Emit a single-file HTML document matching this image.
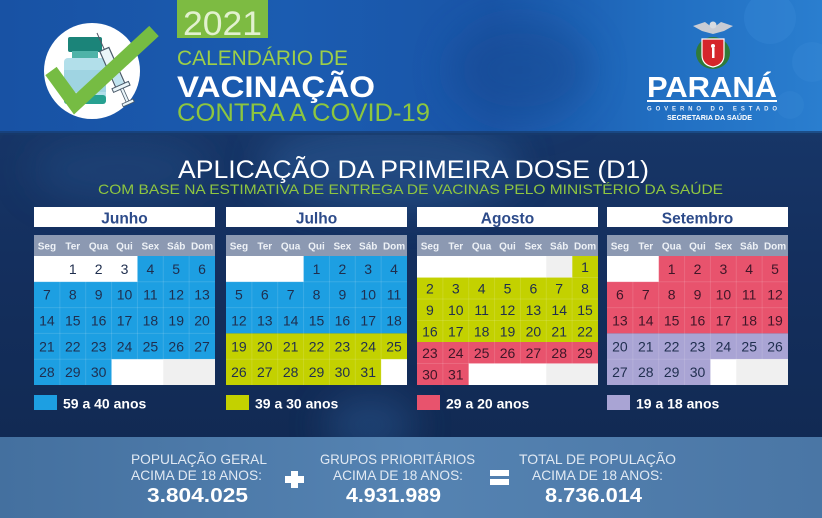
<!DOCTYPE html>
<html>
<head>
<meta charset="utf-8">
<style>
  html,body{margin:0;padding:0;background:#132f5b;}
  svg{display:block;font-family:"Liberation Sans",sans-serif;}
  .mt{font-size:15.5px;font-weight:bold;fill:#2d4b8a;text-anchor:middle;}
  .h{font-size:10px;font-weight:bold;fill:#eef2f7;text-anchor:middle;}
  .n{font-size:14px;fill:#1f2e4e;text-anchor:middle;}
  .np{font-size:14px;fill:#3f1628;text-anchor:middle;}
  .lg{font-size:14px;font-weight:bold;fill:#ffffff;}
  .gl{stroke:rgba(255,255,255,0.13);stroke-width:1;}
  .bt{font-size:14px;fill:#e1e9f3;}
  .bn{font-size:20px;font-weight:bold;fill:#ffffff;}
</style>
</head>
<body>
<svg width="822" height="518" viewBox="0 0 822 518" xmlns="http://www.w3.org/2000/svg">
  <defs>
    <linearGradient id="top" x1="0" y1="0" x2="1" y2="0">
      <stop offset="0" stop-color="#1852a4"/>
      <stop offset="0.35" stop-color="#1b5cb1"/>
      <stop offset="0.6" stop-color="#1a55a7"/>
      <stop offset="0.8" stop-color="#216ec1"/>
      <stop offset="1" stop-color="#2a7ecf"/>
    </linearGradient>
    <linearGradient id="mid" x1="0" y1="0" x2="0" y2="1">
      <stop offset="0" stop-color="#1a3d71"/>
      <stop offset="0.5" stop-color="#142f5e"/>
      <stop offset="1" stop-color="#10284f"/>
    </linearGradient>
    <linearGradient id="bot" x1="0" y1="0" x2="1" y2="0">
      <stop offset="0" stop-color="#44709f"/>
      <stop offset="0.5" stop-color="#5583b2"/>
      <stop offset="1" stop-color="#4a76a5"/>
    </linearGradient>
    <filter id="blur" x="-50%" y="-50%" width="200%" height="200%">
      <feGaussianBlur stdDeviation="18"/>
    </filter>
  </defs>

  <!-- backgrounds -->
  <rect x="0" y="0" width="822" height="518" fill="url(#mid)"/>
  <ellipse cx="390" cy="165" rx="130" ry="45" fill="#2c5c98" opacity="0.55" filter="url(#blur)"/>
  <ellipse cx="370" cy="425" rx="45" ry="30" fill="#2b5891" opacity="0.5" filter="url(#blur)"/>
  <ellipse cx="120" cy="170" rx="90" ry="35" fill="#214b82" opacity="0.5" filter="url(#blur)"/>
  <rect x="0" y="0" width="822" height="133" fill="url(#top)"/>
  <ellipse cx="520" cy="70" rx="70" ry="50" fill="#15478f" opacity="0.5" filter="url(#blur)"/>
  <circle cx="770" cy="18" r="26" fill="#3a8ad6" opacity="0.35"/>
  <circle cx="812" cy="62" r="20" fill="#3a8ad6" opacity="0.3"/>
  <circle cx="790" cy="105" r="14" fill="#3a8ad6" opacity="0.25"/>
  <rect x="0" y="131" width="822" height="4" fill="#173a6c" opacity="0.7"/>
  <rect x="0" y="437" width="822" height="81" fill="url(#bot)"/>

  <!-- icon -->
  <circle cx="92" cy="71" r="48" fill="#ffffff"/>
  <rect x="68" y="37" width="34" height="15" rx="2" fill="#1b8479"/>
  <rect x="72" y="51" width="26" height="8" fill="#4fb3a8"/>
  <rect x="64" y="58" width="42" height="46" rx="4" fill="#b2dfea"/>
  <rect x="64" y="95" width="42" height="9" rx="3" fill="#27a191"/>
  <rect x="64" y="70" width="42" height="22" fill="#9fd4e2"/>
  <g transform="translate(97,33) rotate(-24)">
    <line x1="0" y1="0" x2="0" y2="18" stroke="#556" stroke-width="1"/>
    <rect x="-5" y="18" width="10" height="40" fill="#eaf5f9" stroke="#4a5a6a" stroke-width="1.2"/>
    <rect x="-4" y="36" width="8" height="21" fill="#bfe3ef"/>
    <rect x="-9" y="57" width="18" height="4" fill="#eaf5f9" stroke="#4a5a6a" stroke-width="1"/>
    <rect x="-1.5" y="61" width="3" height="14" fill="#eaf5f9" stroke="#4a5a6a" stroke-width="0.8"/>
    <rect x="-6" y="75" width="12" height="3" fill="#eaf5f9" stroke="#4a5a6a" stroke-width="0.8"/>
  </g>
  <polyline points="51,71 75,104 154,31" fill="none" stroke="#76bc43" stroke-width="14" stroke-linejoin="miter"/>

  <!-- header texts -->
  <rect x="177" y="0" width="91" height="38" fill="#7dbb42"/>
  <text x="183" y="35" font-size="34" fill="#e2f1cf" textLength="79" lengthAdjust="spacingAndGlyphs">2021</text>
  <text x="177" y="65" font-size="21" fill="#9dcf48" textLength="171" lengthAdjust="spacingAndGlyphs">CALENDÁRIO DE</text>
  <text x="177" y="97" font-size="30" font-weight="bold" fill="#ffffff" textLength="198" lengthAdjust="spacingAndGlyphs">VACINAÇÃO</text>
  <text x="177" y="121" font-size="25" fill="#8dc63f" textLength="253" lengthAdjust="spacingAndGlyphs">CONTRA A COVID-19</text>

  <!-- Parana logo -->
  <path d="M693,26 L705,22 L713,28 L721,22 L733,26 L724,31 L713,34 L702,31 Z" fill="#c9ccd4"/>
  <circle cx="713" cy="25" r="3.5" fill="#d8dbe0"/>
  <ellipse cx="713" cy="53" rx="17" ry="16" fill="#2f7a3a"/>
  <path d="M702,39 H724 V55 Q724,65 713,67 Q702,65 702,55 Z" fill="#d5262b" stroke="#ffffff" stroke-width="1.2"/>
  <circle cx="713" cy="46" r="2" fill="#ffffff"/>
  <rect x="712" y="48" width="2.5" height="10" fill="#ffffff"/>
  <text x="647" y="97" font-size="29" font-weight="bold" fill="#ffffff" textLength="130" lengthAdjust="spacingAndGlyphs">PARANÁ</text>
  <rect x="647" y="100" width="130" height="2" fill="#ffffff"/>
  <text x="647" y="110.5" font-size="6" font-weight="bold" fill="#e8f0fa" textLength="130" lengthAdjust="spacing">GOVERNO DO ESTADO</text>
  <text x="667" y="120" font-size="7.5" font-weight="bold" fill="#ffffff" textLength="85" lengthAdjust="spacingAndGlyphs">SECRETARIA DA SAÚDE</text>

  <!-- title -->
  <text x="178" y="178" font-size="25" fill="#ffffff" textLength="471" lengthAdjust="spacingAndGlyphs">APLICAÇÃO DA PRIMEIRA DOSE (D1)</text>
  <text x="98" y="194" font-size="14" fill="#8fc640" textLength="625" lengthAdjust="spacingAndGlyphs">COM BASE NA ESTIMATIVA DE ENTREGA DE VACINAS PELO MINISTÉRIO DA SAÚDE</text>

  <!-- JUNHO -->
  <g transform="translate(34,0)">
    <rect x="0" y="207" width="181" height="20" fill="#ffffff"/>
    <text x="90.5" y="223.5" class="mt">Junho</text>
    <rect x="0" y="235" width="181" height="21" fill="#8c99b2"/>
    <text y="249.5" class="h"><tspan x="12.93">Seg</tspan><tspan x="38.79">Ter</tspan><tspan x="64.64">Qua</tspan><tspan x="90.5">Qui</tspan><tspan x="116.36">Sex</tspan><tspan x="142.21">Sáb</tspan><tspan x="168.07">Dom</tspan></text>
    <rect x="0" y="256" width="181" height="129" fill="#1d9fe2"/>
    <g class="gl">
      <line x1="25.86" y1="256" x2="25.86" y2="385"/><line x1="51.71" y1="256" x2="51.71" y2="385"/><line x1="77.57" y1="256" x2="77.57" y2="385"/><line x1="103.43" y1="256" x2="103.43" y2="385"/><line x1="129.29" y1="256" x2="129.29" y2="385"/><line x1="155.14" y1="256" x2="155.14" y2="385"/>
      <line x1="0" y1="281.8" x2="181" y2="281.8"/><line x1="0" y1="307.6" x2="181" y2="307.6"/><line x1="0" y1="333.4" x2="181" y2="333.4"/><line x1="0" y1="359.2" x2="181" y2="359.2"/>
    </g>
    <rect x="0" y="256" width="103.43" height="25.8" fill="#ffffff"/>
    <rect x="77.57" y="359.2" width="103.43" height="25.8" fill="#ffffff"/>
    <rect x="129.29" y="359.2" width="51.71" height="25.8" fill="#f0f0f0"/>
    <text y="273.9" class="n"><tspan x="38.79">1</tspan><tspan x="64.64">2</tspan><tspan x="90.5">3</tspan><tspan x="116.36">4</tspan><tspan x="142.21">5</tspan><tspan x="168.07">6</tspan></text>
    <text y="299.7" class="n"><tspan x="12.93">7</tspan><tspan x="38.79">8</tspan><tspan x="64.64">9</tspan><tspan x="90.5">10</tspan><tspan x="116.36">11</tspan><tspan x="142.21">12</tspan><tspan x="168.07">13</tspan></text>
    <text y="325.5" class="n"><tspan x="12.93">14</tspan><tspan x="38.79">15</tspan><tspan x="64.64">16</tspan><tspan x="90.5">17</tspan><tspan x="116.36">18</tspan><tspan x="142.21">19</tspan><tspan x="168.07">20</tspan></text>
    <text y="351.3" class="n"><tspan x="12.93">21</tspan><tspan x="38.79">22</tspan><tspan x="64.64">23</tspan><tspan x="90.5">24</tspan><tspan x="116.36">25</tspan><tspan x="142.21">26</tspan><tspan x="168.07">27</tspan></text>
    <text y="377.1" class="n"><tspan x="12.93">28</tspan><tspan x="38.79">29</tspan><tspan x="64.64">30</tspan></text>
    <rect x="0" y="395" width="23" height="15" fill="#1d9fe2"/>
    <text x="29" y="408.5" class="lg">59 a 40 anos</text>
  </g>

  <!-- JULHO -->
  <g transform="translate(226,0)">
    <rect x="0" y="207" width="181" height="20" fill="#ffffff"/>
    <text x="90.5" y="223.5" class="mt">Julho</text>
    <rect x="0" y="235" width="181" height="21" fill="#8c99b2"/>
    <text y="249.5" class="h"><tspan x="12.93">Seg</tspan><tspan x="38.79">Ter</tspan><tspan x="64.64">Qua</tspan><tspan x="90.5">Qui</tspan><tspan x="116.36">Sex</tspan><tspan x="142.21">Sáb</tspan><tspan x="168.07">Dom</tspan></text>
    <rect x="0" y="256" width="181" height="77.4" fill="#1d9fe2"/>
    <rect x="0" y="333.4" width="181" height="51.6" fill="#c3d100"/>
    <g class="gl">
      <line x1="25.86" y1="256" x2="25.86" y2="385"/><line x1="51.71" y1="256" x2="51.71" y2="385"/><line x1="77.57" y1="256" x2="77.57" y2="385"/><line x1="103.43" y1="256" x2="103.43" y2="385"/><line x1="129.29" y1="256" x2="129.29" y2="385"/><line x1="155.14" y1="256" x2="155.14" y2="385"/>
      <line x1="0" y1="281.8" x2="181" y2="281.8"/><line x1="0" y1="307.6" x2="181" y2="307.6"/><line x1="0" y1="359.2" x2="181" y2="359.2"/>
    </g>
    <rect x="0" y="256" width="77.57" height="25.8" fill="#ffffff"/>
    <rect x="155.14" y="359.2" width="25.86" height="25.8" fill="#ffffff"/>
    <text y="273.9" class="n"><tspan x="90.5">1</tspan><tspan x="116.36">2</tspan><tspan x="142.21">3</tspan><tspan x="168.07">4</tspan></text>
    <text y="299.7" class="n"><tspan x="12.93">5</tspan><tspan x="38.79">6</tspan><tspan x="64.64">7</tspan><tspan x="90.5">8</tspan><tspan x="116.36">9</tspan><tspan x="142.21">10</tspan><tspan x="168.07">11</tspan></text>
    <text y="325.5" class="n"><tspan x="12.93">12</tspan><tspan x="38.79">13</tspan><tspan x="64.64">14</tspan><tspan x="90.5">15</tspan><tspan x="116.36">16</tspan><tspan x="142.21">17</tspan><tspan x="168.07">18</tspan></text>
    <text y="351.3" class="n"><tspan x="12.93">19</tspan><tspan x="38.79">20</tspan><tspan x="64.64">21</tspan><tspan x="90.5">22</tspan><tspan x="116.36">23</tspan><tspan x="142.21">24</tspan><tspan x="168.07">25</tspan></text>
    <text y="377.1" class="n"><tspan x="12.93">26</tspan><tspan x="38.79">27</tspan><tspan x="64.64">28</tspan><tspan x="90.5">29</tspan><tspan x="116.36">30</tspan><tspan x="142.21">31</tspan></text>
    <rect x="0" y="395" width="23" height="15" fill="#c3d100"/>
    <text x="29" y="408.5" class="lg">39 a 30 anos</text>
  </g>

  <!-- AGOSTO -->
  <g transform="translate(417,0)">
    <rect x="0" y="207" width="181" height="20" fill="#ffffff"/>
    <text x="90.5" y="223.5" class="mt">Agosto</text>
    <rect x="0" y="235" width="181" height="21" fill="#8c99b2"/>
    <text y="249.5" class="h"><tspan x="12.93">Seg</tspan><tspan x="38.79">Ter</tspan><tspan x="64.64">Qua</tspan><tspan x="90.5">Qui</tspan><tspan x="116.36">Sex</tspan><tspan x="142.21">Sáb</tspan><tspan x="168.07">Dom</tspan></text>
    <rect x="0" y="256" width="181" height="86" fill="#c3d100"/>
    <rect x="0" y="342" width="181" height="43" fill="#e8536d"/>
    <g class="gl">
      <line x1="25.86" y1="256" x2="25.86" y2="385"/><line x1="51.71" y1="256" x2="51.71" y2="385"/><line x1="77.57" y1="256" x2="77.57" y2="385"/><line x1="103.43" y1="256" x2="103.43" y2="385"/><line x1="129.29" y1="256" x2="129.29" y2="385"/><line x1="155.14" y1="256" x2="155.14" y2="385"/>
      <line x1="0" y1="277.5" x2="181" y2="277.5"/><line x1="0" y1="299" x2="181" y2="299"/><line x1="0" y1="320.5" x2="181" y2="320.5"/><line x1="0" y1="363.5" x2="181" y2="363.5"/>
    </g>
    <rect x="0" y="256" width="155.14" height="21.5" fill="#ffffff"/>
    <rect x="129.29" y="256" width="25.86" height="21.5" fill="#f0f0f0"/>
    <rect x="51.71" y="363.5" width="129.29" height="21.5" fill="#ffffff"/>
    <rect x="129.29" y="363.5" width="51.71" height="21.5" fill="#f0f0f0"/>
    <text y="271.75" class="n"><tspan x="168.07">1</tspan></text>
    <text y="293.25" class="n"><tspan x="12.93">2</tspan><tspan x="38.79">3</tspan><tspan x="64.64">4</tspan><tspan x="90.5">5</tspan><tspan x="116.36">6</tspan><tspan x="142.21">7</tspan><tspan x="168.07">8</tspan></text>
    <text y="314.75" class="n"><tspan x="12.93">9</tspan><tspan x="38.79">10</tspan><tspan x="64.64">11</tspan><tspan x="90.5">12</tspan><tspan x="116.36">13</tspan><tspan x="142.21">14</tspan><tspan x="168.07">15</tspan></text>
    <text y="336.25" class="n"><tspan x="12.93">16</tspan><tspan x="38.79">17</tspan><tspan x="64.64">18</tspan><tspan x="90.5">19</tspan><tspan x="116.36">20</tspan><tspan x="142.21">21</tspan><tspan x="168.07">22</tspan></text>
    <text y="357.75" class="np"><tspan x="12.93">23</tspan><tspan x="38.79">24</tspan><tspan x="64.64">25</tspan><tspan x="90.5">26</tspan><tspan x="116.36">27</tspan><tspan x="142.21">28</tspan><tspan x="168.07">29</tspan></text>
    <text y="379.25" class="np"><tspan x="12.93">30</tspan><tspan x="38.79">31</tspan></text>
    <rect x="0" y="395" width="23" height="15" fill="#e8536d"/>
    <text x="29" y="408.5" class="lg">29 a 20 anos</text>
  </g>

  <!-- SETEMBRO -->
  <g transform="translate(607,0)">
    <rect x="0" y="207" width="181" height="20" fill="#ffffff"/>
    <text x="90.5" y="223.5" class="mt">Setembro</text>
    <rect x="0" y="235" width="181" height="21" fill="#8c99b2"/>
    <text y="249.5" class="h"><tspan x="12.93">Seg</tspan><tspan x="38.79">Ter</tspan><tspan x="64.64">Qua</tspan><tspan x="90.5">Qui</tspan><tspan x="116.36">Sex</tspan><tspan x="142.21">Sáb</tspan><tspan x="168.07">Dom</tspan></text>
    <rect x="0" y="256" width="181" height="77.4" fill="#e8536d"/>
    <rect x="0" y="333.4" width="181" height="51.6" fill="#a9a4d4"/>
    <g class="gl">
      <line x1="25.86" y1="256" x2="25.86" y2="385"/><line x1="51.71" y1="256" x2="51.71" y2="385"/><line x1="77.57" y1="256" x2="77.57" y2="385"/><line x1="103.43" y1="256" x2="103.43" y2="385"/><line x1="129.29" y1="256" x2="129.29" y2="385"/><line x1="155.14" y1="256" x2="155.14" y2="385"/>
      <line x1="0" y1="281.8" x2="181" y2="281.8"/><line x1="0" y1="307.6" x2="181" y2="307.6"/><line x1="0" y1="359.2" x2="181" y2="359.2"/>
    </g>
    <rect x="0" y="256" width="51.71" height="25.8" fill="#ffffff"/>
    <rect x="103.43" y="359.2" width="77.57" height="25.8" fill="#ffffff"/>
    <rect x="129.29" y="359.2" width="51.71" height="25.8" fill="#f0f0f0"/>
    <text y="273.9" class="np"><tspan x="64.64">1</tspan><tspan x="90.5">2</tspan><tspan x="116.36">3</tspan><tspan x="142.21">4</tspan><tspan x="168.07">5</tspan></text>
    <text y="299.7" class="np"><tspan x="12.93">6</tspan><tspan x="38.79">7</tspan><tspan x="64.64">8</tspan><tspan x="90.5">9</tspan><tspan x="116.36">10</tspan><tspan x="142.21">11</tspan><tspan x="168.07">12</tspan></text>
    <text y="325.5" class="np"><tspan x="12.93">13</tspan><tspan x="38.79">14</tspan><tspan x="64.64">15</tspan><tspan x="90.5">16</tspan><tspan x="116.36">17</tspan><tspan x="142.21">18</tspan><tspan x="168.07">19</tspan></text>
    <text y="351.3" class="n"><tspan x="12.93">20</tspan><tspan x="38.79">21</tspan><tspan x="64.64">22</tspan><tspan x="90.5">23</tspan><tspan x="116.36">24</tspan><tspan x="142.21">25</tspan><tspan x="168.07">26</tspan></text>
    <text y="377.1" class="n"><tspan x="12.93">27</tspan><tspan x="38.79">28</tspan><tspan x="64.64">29</tspan><tspan x="90.5">30</tspan></text>
    <rect x="0" y="395" width="23" height="15" fill="#a9a4d4"/>
    <text x="29" y="408.5" class="lg">19 a 18 anos</text>
  </g>

  <!-- bottom band texts -->
  <text x="131" y="464" class="bt" textLength="136" lengthAdjust="spacingAndGlyphs">POPULAÇÃO GERAL</text>
  <text x="131" y="480" class="bt" textLength="131" lengthAdjust="spacingAndGlyphs">ACIMA DE 18 ANOS:</text>
  <text x="147" y="502" class="bn" textLength="101" lengthAdjust="spacingAndGlyphs">3.804.025</text>

  <rect x="291" y="471" width="7" height="17" fill="#ffffff"/>
  <rect x="285" y="476" width="19" height="7" fill="#ffffff"/>

  <text x="320" y="464" class="bt" textLength="155" lengthAdjust="spacingAndGlyphs">GRUPOS PRIORITÁRIOS</text>
  <text x="333" y="480" class="bt" textLength="130" lengthAdjust="spacingAndGlyphs">ACIMA DE 18 ANOS:</text>
  <text x="346" y="502" class="bn" textLength="95" lengthAdjust="spacingAndGlyphs">4.931.989</text>

  <rect x="490" y="470" width="19" height="6" fill="#ffffff"/>
  <rect x="490" y="479" width="19" height="6" fill="#ffffff"/>

  <text x="519" y="464" class="bt" textLength="157" lengthAdjust="spacingAndGlyphs">TOTAL DE POPULAÇÃO</text>
  <text x="532" y="480" class="bt" textLength="131" lengthAdjust="spacingAndGlyphs">ACIMA DE 18 ANOS:</text>
  <text x="545" y="502" class="bn" textLength="97" lengthAdjust="spacingAndGlyphs">8.736.014</text>
</svg>
</body>
</html>
